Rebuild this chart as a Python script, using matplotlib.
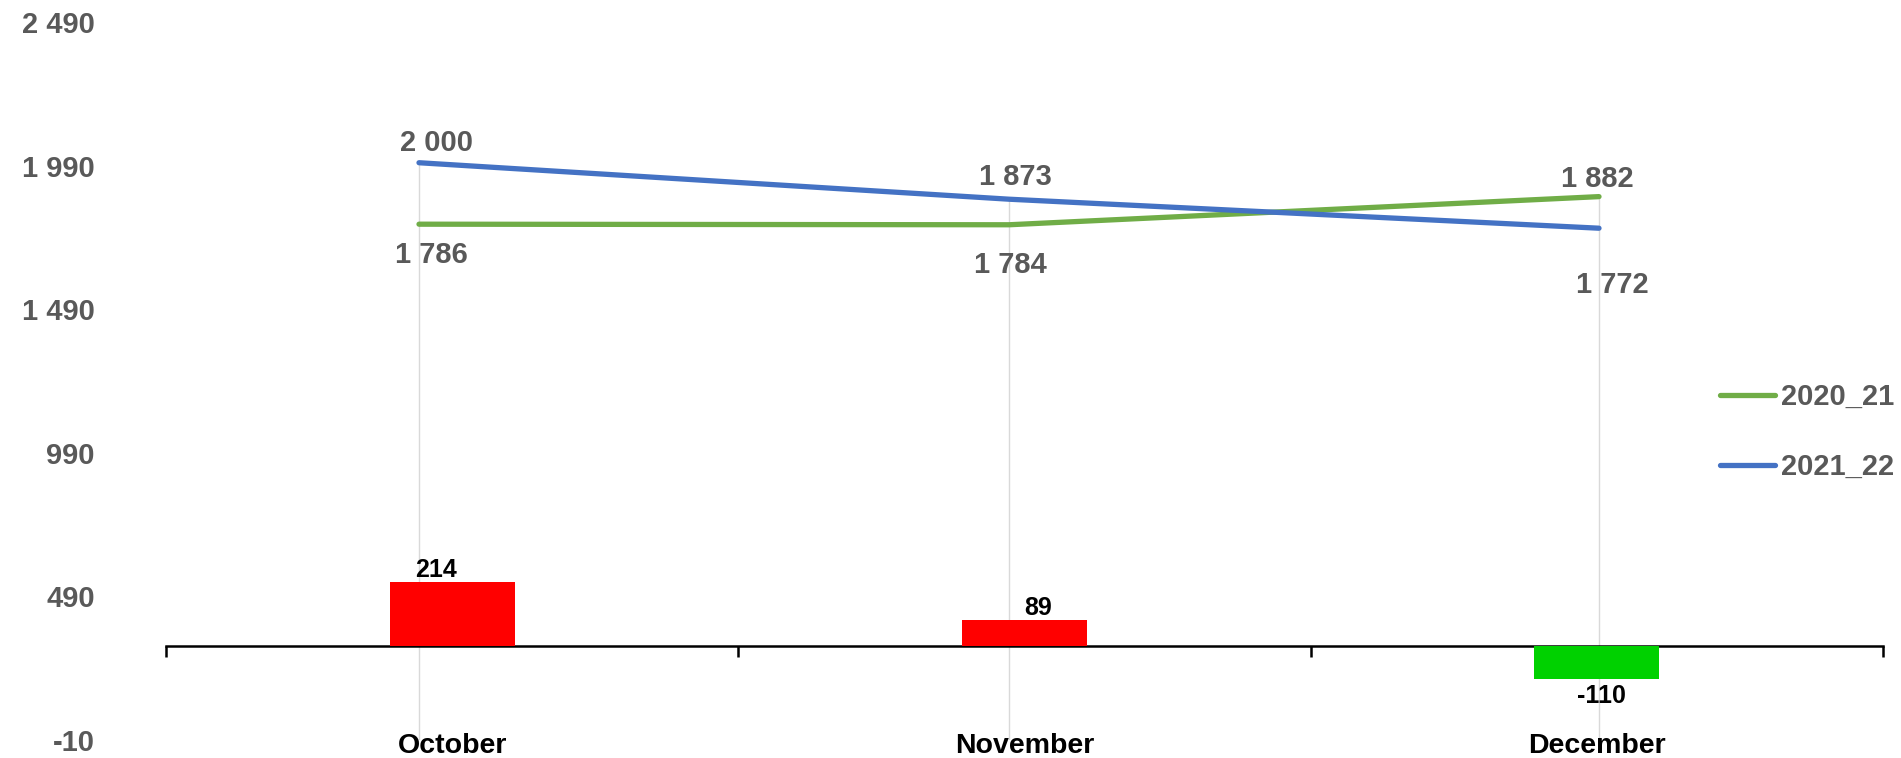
import numpy as np
import matplotlib
matplotlib.use('Agg')
from matplotlib import pyplot as plt
from matplotlib import transforms

months = ['October', 'November', 'December']
season_2020_21 = [1786, 1784, 1882]
season_2021_22 = [2000, 1873, 1772]
difference = [214, 89, -110]
y_ticks = [-10, 490, 990, 1490, 1990, 2490]

plt.rcParams['font.family'] = ['Liberation Sans', 'DejaVu Sans']
plt.rcParams['font.weight'] = 'bold'

W, H = 1901, 758
fig = plt.figure(figsize=(W / 100, H / 100), dpi=100)


def px_box(x0, x1, ytop, ybot):
    return [x0 / W, 1 - ybot / H, (x1 - x0) / W, (ybot - ytop) / H]


def fmt(v):
    return f"{v:,}".replace(",", " ")


gray = '#595959'
green = '#70AD47'
blue = '#4472C4'

# line axis (primary)
ax = fig.add_axes(px_box(124, 1894, 22, 740))
# bar axis (secondary, hidden scale)
ax2 = fig.add_axes(px_box(166, 1883, 22, 740))
ax2.patch.set_visible(False)

x = np.arange(len(months))

ax.vlines(x, y_ticks[0], np.maximum(season_2020_21, season_2021_22),
          color='#d9d9d9', lw=1, zorder=0)
ax.plot(x, season_2020_21, color=green, lw=3.8, solid_capstyle='round', label='2020_21')
ax.plot(x, season_2021_22, color=blue, lw=3.8, solid_capstyle='round', label='2021_22')
ax.set_xlim(-0.5, 2.5)
ax.set_ylim(y_ticks[0], y_ticks[-1])
ax.set_yticks(y_ticks)
ax.set_yticklabels([fmt(v) for v in y_ticks], fontweight='bold')
ax.tick_params(axis='y', length=0, pad=21, labelsize=21, labelcolor=gray)
ax.set_xticks([])
for s in ax.spines.values():
    s.set_visible(False)

# label offsets in pixels (dx, dy)
off_20 = [(12, -31), (1, -40), (-2, 18)]
off_21 = [(17, 20), (6, 22), (13, -57)]
for i in range(len(months)):
    ax.annotate(fmt(season_2020_21[i]), (x[i], season_2020_21[i]), xytext=off_20[i],
                textcoords='offset pixels', ha='center', va='center',
                fontsize=21, color=gray, fontweight='bold')
    ax.annotate(fmt(season_2021_22[i]), (x[i], season_2021_22[i]), xytext=off_21[i],
                textcoords='offset pixels', ha='center', va='center',
                fontsize=21, color=gray, fontweight='bold')

fig.legend(loc='center left', bbox_to_anchor=(1720 / W, 1 - 432 / H),
           frameon=False, borderpad=0, borderaxespad=0, handlelength=1.9,
           handletextpad=0.2, labelspacing=1.45,
           prop={'size': 21, 'weight': 'bold'}, labelcolor=gray)

# bars
bar_colors = ['#FF0000' if v > 0 else '#00D100' for v in difference]
ax2.bar(x, difference, width=0.218, color=bar_colors, zorder=3)
ax2.set_xlim(-0.5, 2.5)
ax2.set_ylim(-317, 2103)
for name in ['top', 'left', 'right']:
    ax2.spines[name].set_visible(False)
ax2.spines['bottom'].set_position(('data', 0))
ax2.spines['bottom'].set_linewidth(1.8)
ax2.set_xticks([-0.5, 0.5, 1.5, 2.5])
ax2.set_xticklabels([])
ax2.tick_params(axis='x', direction='out', length=8, width=1.8, color='black')
ax2.set_yticks([])

bar_dx = [-16, 14, 5]
for i, v in enumerate(difference):
    dy = 12 if v > 0 else -17
    ax2.annotate(str(v), (x[i], v), xytext=(bar_dx[i], dy), textcoords='offset pixels',
                 ha='center', va='center', fontsize=18, color='black', fontweight='bold')

trans = transforms.blended_transform_factory(ax2.transData, ax2.transAxes)
for i, m in enumerate(months):
    ax2.text(x[i], -0.008, m, transform=trans, ha='center', va='center',
             fontsize=20.5, color='black', fontweight='bold')

fig.savefig('out.png', dpi=100)
